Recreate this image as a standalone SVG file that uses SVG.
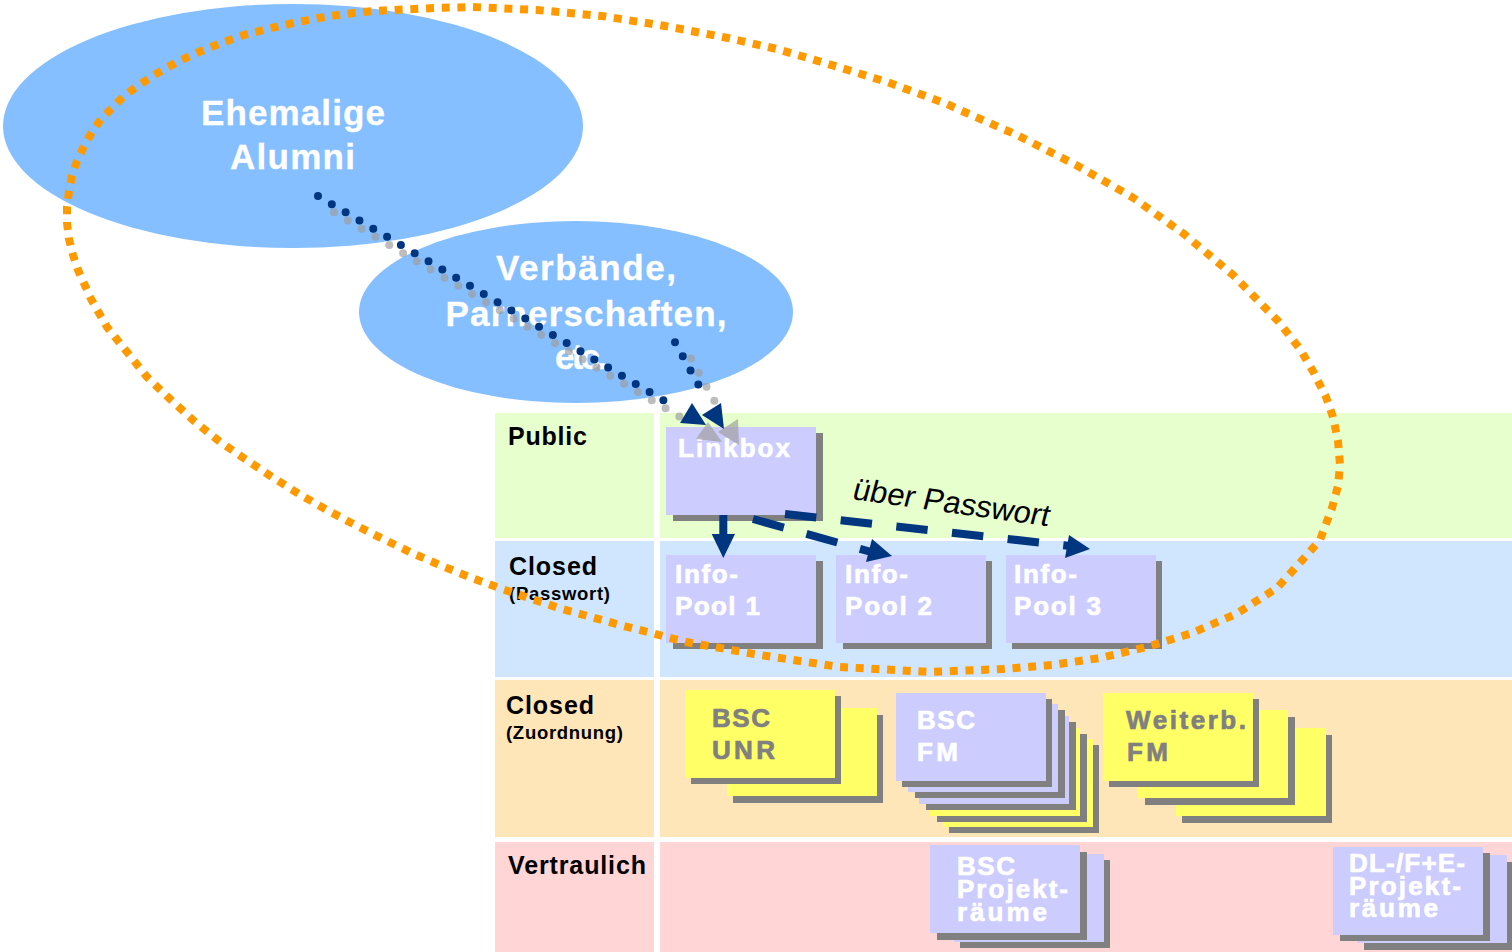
<svg xmlns="http://www.w3.org/2000/svg" width="1512" height="952" viewBox="0 0 1512 952">
<style>
text{font-family:"Liberation Sans",Arial,sans-serif;font-weight:bold}
.w{fill:#fff;stroke:#fff}.g{fill:#808080;stroke:#808080}.k{fill:#000}
.e{font-size:35px;fill:#fff;stroke:#fff;stroke-width:.3;text-anchor:middle}
.b{font-size:26px;stroke-width:.7}.t{font-size:25px}.s{font-size:18.5px}
.sh{fill:#808080}.p{fill:#ccf}.y{fill:#ff6}
.dot{fill:none;stroke-width:8;stroke-linecap:round;stroke-dasharray:0 16.05}
.dash{fill:none;stroke:#003580;stroke-width:8}
.ah{fill:#003580}
</style>
<g id="bands">
<rect x="495" y="413" width="159" height="125" fill="#e6ffcc"/><rect x="660" y="413" width="852" height="125" fill="#e6ffcc"/>
<rect x="495" y="541" width="159" height="136" fill="#d0e6ff"/><rect x="660" y="541" width="852" height="136" fill="#d0e6ff"/>
<rect x="495" y="680" width="159" height="157" fill="#ffe6b8"/><rect x="660" y="680" width="852" height="157" fill="#ffe6b8"/>
<rect x="495" y="842" width="159" height="110" fill="#ffd5d5"/><rect x="660" y="842" width="852" height="110" fill="#ffd5d5"/>
</g>
<g id="band-labels">
<text class="k t" x="508" y="445" textLength="79">Public</text>
<text class="k t" x="509" y="575" textLength="88">Closed</text>
<text class="k s" x="509" y="600" textLength="101">(Passwort)</text>
<text class="k t" x="506" y="714" textLength="88">Closed</text>
<text class="k s" x="506" y="739" textLength="117">(Zuordnung)</text>
<text class="k t" x="508" y="874" textLength="138">Vertraulich</text>
</g>
<g id="alumni"><ellipse cx="293" cy="126" rx="290" ry="122" fill="#85bfff"/>
<text class="e" x="293" y="124.5" textLength="184">Ehemalige</text><text class="e" x="292.5" y="169" textLength="125">Alumni</text></g>
<g id="verbaende"><ellipse cx="576" cy="312" rx="217" ry="91" fill="#85bfff"/>
<text class="e" x="586" y="280" textLength="180">Verbände,</text><text class="e" x="586" y="326" textLength="281">Parnerschaften,</text><text class="e" x="581" y="369" textLength="52">etc.</text></g>
<g id="linkbox"><rect class="sh" x="673" y="433" width="150" height="88"/><rect class="p" x="666" y="427" width="150" height="88"/><text class="w b" x="678" y="457" textLength="112">Linkbox</text></g>
<g id="pool1"><rect class="sh" x="673" y="561" width="150" height="88"/><rect class="p" x="666" y="555" width="150" height="88"/><text class="w b" x="675" y="583" textLength="63">Info-</text><text class="w b" x="675" y="615" textLength="85">Pool 1</text></g>
<g id="pool2"><rect class="sh" x="843" y="561" width="149" height="88"/><rect class="p" x="836" y="555" width="150" height="88"/><text class="w b" x="845" y="583" textLength="63">Info-</text><text class="w b" x="845" y="615" textLength="87">Pool 2</text></g>
<g id="pool3"><rect class="sh" x="1012" y="561" width="150" height="88"/><rect class="p" x="1006" y="555" width="150" height="88"/><text class="w b" x="1014" y="583" textLength="63">Info-</text><text class="w b" x="1014" y="615" textLength="87">Pool 3</text></g>
<g id="bsc-unr">
<rect class="sh" x="733" y="715" width="150" height="88"/><rect class="y" x="727" y="708" width="150" height="88"/>
<rect class="sh" x="691" y="696" width="150" height="88"/><rect class="y" x="685" y="690" width="150" height="88"/>
<text class="g b" x="712" y="727" textLength="58">BSC</text><text class="g b" x="712" y="759" textLength="63">UNR</text></g>
<g id="bsc-fm">
<rect class="sh" x="949" y="745" width="150" height="88"/><rect class="y" x="943" y="739" width="150" height="88"/>
<rect class="sh" x="937" y="734" width="150" height="88"/><rect class="y" x="930" y="728" width="150" height="88"/>
<rect class="sh" x="926" y="722" width="150" height="88"/><rect class="p" x="919" y="716" width="150" height="88"/>
<rect class="sh" x="915" y="710" width="150" height="88"/><rect class="p" x="908" y="704" width="150" height="88"/>
<rect class="sh" x="902" y="699" width="150" height="88"/><rect class="p" x="896" y="693" width="150" height="88"/>
<text class="w b" x="917" y="729" textLength="58">BSC</text><text class="w b" x="917" y="761" textLength="41">FM</text></g>
<g id="weiterb">
<rect class="sh" x="1182" y="735" width="150" height="88"/><rect class="y" x="1176" y="728" width="150" height="88"/>
<rect class="sh" x="1145" y="717" width="150" height="88"/><rect class="y" x="1138" y="710" width="150" height="88"/>
<rect class="sh" x="1109" y="699" width="150" height="88"/><rect class="y" x="1103" y="693" width="150" height="88"/>
<text class="g b" x="1126" y="729" textLength="120">Weiterb.</text><text class="g b" x="1127" y="761" textLength="41">FM</text></g>
<g id="bsc-projekt">
<rect class="sh" x="960" y="860" width="150" height="88"/><rect class="p" x="954" y="854" width="150" height="88"/>
<rect class="sh" x="937" y="852" width="150" height="88"/><rect class="p" x="930" y="845" width="150" height="88"/>
<text class="w b" x="957" y="875" textLength="58">BSC</text><text class="w b" x="957" y="898" textLength="111">Projekt-</text><text class="w b" x="957" y="921" textLength="90">räume</text></g>
<g id="dl-projekt">
<rect class="sh" x="1364" y="862" width="150" height="88"/><rect class="p" x="1357" y="855" width="150" height="88"/>
<rect class="sh" x="1340" y="853" width="150" height="88"/><rect class="p" x="1333" y="847" width="150" height="88"/>
<text class="w b" x="1349" y="872" textLength="116">DL-/F+E-</text><text class="w b" x="1349" y="895" textLength="112">Projekt-</text><text class="w b" x="1349" y="917" textLength="89">räume</text></g>
<g id="perimeter"><polygon fill="none" stroke="#f90" stroke-width="8" stroke-dasharray="8 7.7" points="473,7 537,10 602,16 665,26 728,38 777,49 825,63 887,82 947,104 960,110 1019,136 1076,165 1132,197 1184,234 1233,275 1278,321 1300,349 1314,373 1326,397 1333,417 1338,441 1340,465 1338,486 1332,508 1320,540 1297,566 1277,588 1236,614 1192,633 1147,647 1100,658 1052,665 1003,669 930,672 840,667 760,655 686,642 624,626 562,609 502,589 472,578 442,566 412,553 383,539 355,525 327,510 299,494 272,477 245,459 219,441 194,421 170,399 147,377 127,352 107,327 91,299 78,270 73,255 69,239 67,223 67,207 69,191 72,176 77,161 84,146 92,132 101,119 112,108 123,97 136,87 156,74 177,62 199,52 221,43 244,35 267,29 298,22 330,16 354,13 378,10.7 434,8"/></g>
<g id="connectors">
<g opacity=".67" fill="#9e9e9e" stroke="#9e9e9e">
<path class="dot" d="M318 196L677 408.3" transform="translate(16 16.3)"/>
<path class="dot" d="M675 342.3L706 398.3" transform="translate(16 16.3)"/>
<polygon points="708,422 696,439 722,442" stroke="none"/>
<polygon points="738,419 718,432 739,445" stroke="none"/>
</g>
<path class="dot" stroke="#003580" d="M318 196L677 408.3"/>
<path class="dot" stroke="#003580" d="M675 342.3L706 398.3"/>
<polygon class="ah" points="692,403 680,423 706,425"/>
<polygon class="ah" points="702,415 721,403 724,429"/>
<path d="M723.3 515V536" fill="none" stroke="#003580" stroke-width="8"/>
<polygon class="ah" points="711.7,534 735,534 723.3,558"/>
<path class="dash" d="M753 519L875 553" stroke-dasharray="32 23.5"/>
<polygon class="ah" points="872,539 892,556 866,562"/>
<path class="dash" d="M785 514L1075 546.5" stroke-dasharray="31.5 24.5"/>
<polygon class="ah" points="1069,535 1090,549 1065,558"/>
</g>
<text id="ueber-passwort" transform="translate(851 499) rotate(7.9) skewX(-7)" font-size="31" style="font-weight:normal" fill="#000">über Passwort</text>
</svg>
